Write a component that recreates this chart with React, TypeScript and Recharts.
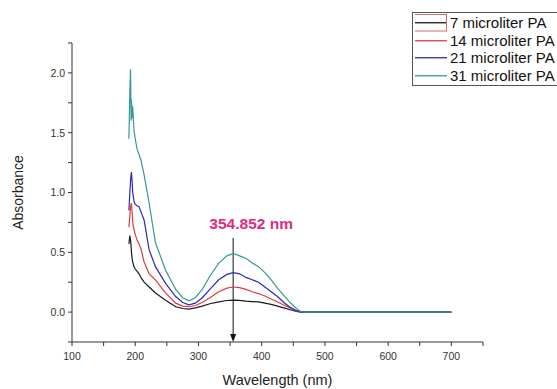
import React from 'react';
import { LineChart, Line, XAxis, YAxis, Legend, ReferenceLine, Label } from 'recharts';

const wavelengths = [190, 191.5, 192.6, 193.5, 194, 195, 196, 198, 200, 203, 206, 209, 214, 222, 232, 248, 264, 275, 285, 295, 306, 318, 332, 345, 355, 365, 375, 385, 395, 405, 415, 425, 435, 445, 455, 462, 470, 500, 550, 600, 650, 700];

const abs7 = [0.57, 0.64, 0.6, 0.55, 0.5, 0.45, 0.42, 0.38, 0.36, 0.34, 0.32, 0.29, 0.25, 0.21, 0.16, 0.1, 0.045, 0.03, 0.025, 0.035, 0.05, 0.07, 0.085, 0.097, 0.1, 0.098, 0.092, 0.088, 0.085, 0.075, 0.065, 0.05, 0.035, 0.02, 0.005, 0, 0, 0, 0, 0, 0, 0];
const abs14 = [0.71, 0.8, 0.88, 0.9, 0.91, 0.85, 0.75, 0.69, 0.65, 0.6, 0.57, 0.53, 0.42, 0.32, 0.27, 0.16, 0.075, 0.05, 0.045, 0.055, 0.08, 0.12, 0.17, 0.2, 0.21, 0.205, 0.19, 0.17, 0.155, 0.135, 0.11, 0.085, 0.06, 0.035, 0.01, 0.001, 0, 0, 0, 0, 0, 0];
const abs21 = [0.85, 1.0, 1.1, 1.15, 1.17, 1.1, 1.0, 0.93, 0.9, 0.89, 0.88, 0.84, 0.77, 0.52, 0.38, 0.24, 0.13, 0.08, 0.06, 0.075, 0.12, 0.19, 0.27, 0.315, 0.33, 0.32, 0.29, 0.27, 0.25, 0.21, 0.17, 0.13, 0.08, 0.04, 0.012, 0.002, 0, 0, 0, 0, 0, 0];
const abs31 = [1.45, 1.85, 2.03, 1.6, 1.78, 1.62, 1.72, 1.52, 1.45, 1.36, 1.32, 1.27, 1.15, 0.91, 0.58, 0.35, 0.19, 0.12, 0.095, 0.12, 0.19, 0.3, 0.41, 0.47, 0.49, 0.47, 0.45, 0.41, 0.38, 0.33, 0.27, 0.2, 0.14, 0.08, 0.03, 0.003, 0, 0, 0, 0, 0, 0];

const seriesKeys = ['a7', 'a14', 'a21', 'a31'];
const seriesNames = ['7 microliter PA', '14 microliter PA', '21 microliter PA', '31 microliter PA'];
const seriesColors = ['#1a1a1a', '#e03a3a', '#2a2ab8', '#339a96'];

const xTicks = [100, 150, 200, 250, 300, 350, 400, 450, 500, 550, 600, 650, 700, 750];
const yTicks = [-0.25, 0, 0.25, 0.5, 0.75, 1.0, 1.25, 1.5, 1.75, 2.0, 2.25];
const xLabeled = [100, 200, 300, 400, 500, 600, 700];
const yLabeled = [0, 0.5, 1.0, 1.5, 2.0];

const peakWavelength = 354.852;
const peakLabel = '354.852 nm';
const peakLineTop = 0.62;

const data = wavelengths.map((w, i) => ({ w, a7: abs7[i], a14: abs14[i], a21: abs21[i], a31: abs31[i] }));

const FONT = '"Liberation Sans", Arial, sans-serif';
const AXIS = '#333';

const XTick = (props: any) => {
  const { x, y, payload } = props;
  const v = payload.value;
  return (
    <g>
      <line x1={x} x2={x} y1={y} y2={y + 4} stroke={AXIS} strokeWidth={1} />
      {xLabeled.includes(v) && (
        <text x={x} y={y + 18} textAnchor="middle" fontSize={10.5} fill="#333" fontFamily={FONT}>{v}</text>
      )}
    </g>
  );
};

const YTick = (props: any) => {
  const { x, y, payload } = props;
  const v = payload.value;
  const lab = yLabeled.some((t) => Math.abs(t - v) < 1e-6);
  return (
    <g>
      <line x1={x - 4} x2={x} y1={y} y2={y} stroke={AXIS} strokeWidth={1} />
      {lab && (
        <text x={x - 7} y={y} dy={3.8} textAnchor="end" fontSize={10.5} fill="#333" fontFamily={FONT}>{v.toFixed(1)}</text>
      )}
    </g>
  );
};

const renderLegend = () => (
  <div style={{ borderTop: '1px solid #555', borderLeft: '1px solid #555', borderBottom: '1px solid #555', background: '#fff', width: 170, padding: '1px 0 1px 2px', fontFamily: FONT, position: 'relative' }}>
    {seriesNames.map((n, i) => (
      <div key={n} style={{ display: 'flex', alignItems: 'center', height: 17.5 }}>
        <svg width={32} height={17.5} style={{ display: 'block', flex: 'none' }}>
          <line x1={0} x2={32} y1={8.75} y2={8.75} stroke={seriesColors[i]} strokeWidth={1.3} />
          {i === 0 && <rect x={-1.5} y={0.5} width={33} height={16.5} fill="none" stroke="#c87070" strokeWidth={1} />}
        </svg>
        <span style={{ marginLeft: 3, fontSize: 15, color: '#111', whiteSpace: 'nowrap', lineHeight: '17.5px' }}>{n}</span>
      </div>
    ))}
  </div>
);

const PeakMarker = (props: any) => {
  const { x1, y1, x2, y2 } = props;
  return (
    <g>
      <line x1={x1} y1={y1} x2={x2} y2={y2 - 6} stroke="#111" strokeWidth={1} />
      <path d={`M ${x2 - 3} ${y2 - 8} L ${x2 + 3} ${y2 - 8} L ${x2} ${y2} Z`} fill="#111" />
      <text x={x1 + 18} y={y1 - 9} textAnchor="middle" fontSize={15.5} fontWeight="bold" fill="#e3287f" fontFamily={FONT}>{peakLabel}</text>
    </g>
  );
};

export default function App() {
  return (
    <div style={{ position: 'absolute', left: 0, top: 0, width: 557, height: 389, background: '#fff', overflow: 'hidden' }}>
      <LineChart width={557} height={389} data={data} margin={{ top: 43, right: 74, bottom: 17, left: 22 }}>
        <XAxis
          dataKey="w"
          type="number"
          domain={[100, 750]}
          ticks={xTicks}
          interval={0}
          tickSize={0}
          tickMargin={0}
          tick={<XTick />}
          height={30}
          stroke={AXIS}
          allowDataOverflow
        >
          <Label
            content={(p: any) => {
              const vb = p.viewBox;
              return (
                <text x={vb.x + vb.width / 2} y={vb.y + 43} textAnchor="middle" fontSize={14.5} fill="#222" fontFamily={FONT}>Wavelength (nm)</text>
              );
            }}
          />
        </XAxis>
        <YAxis
          type="number"
          domain={[-0.25, 2.25]}
          ticks={yTicks}
          interval={0}
          tickSize={0}
          tickMargin={0}
          tick={<YTick />}
          width={50}
          stroke={AXIS}
          allowDataOverflow
        >
          <Label
            content={(p: any) => {
              const vb = p.viewBox;
              const cx = vb.x + vb.width - 54;
              const cy = vb.y + vb.height / 2;
              return (
                <text transform={`translate(${cx},${cy}) rotate(-90)`} dy={5} textAnchor="middle" fontSize={14} fill="#222" fontFamily={FONT}>Absorbance</text>
              );
            }}
          />
        </YAxis>
        <Legend
          layout="horizontal"
          verticalAlign="middle"
          align="center"
          content={renderLegend}
          wrapperStyle={{ position: 'absolute', left: 412, top: 12, width: 175, height: 'auto' }}
        />
        <ReferenceLine
          segment={[{ x: peakWavelength, y: peakLineTop }, { x: peakWavelength, y: -0.25 }]}
          shape={<PeakMarker />}
          ifOverflow="visible"
        />
        {seriesKeys.map((k, i) => (
          <Line
            key={k}
            dataKey={k}
            name={seriesNames[i]}
            stroke={seriesColors[i]}
            strokeWidth={1.2}
            dot={false}
            type="linear"
            isAnimationActive={false}
          />
        ))}
      </LineChart>
    </div>
  );
}
